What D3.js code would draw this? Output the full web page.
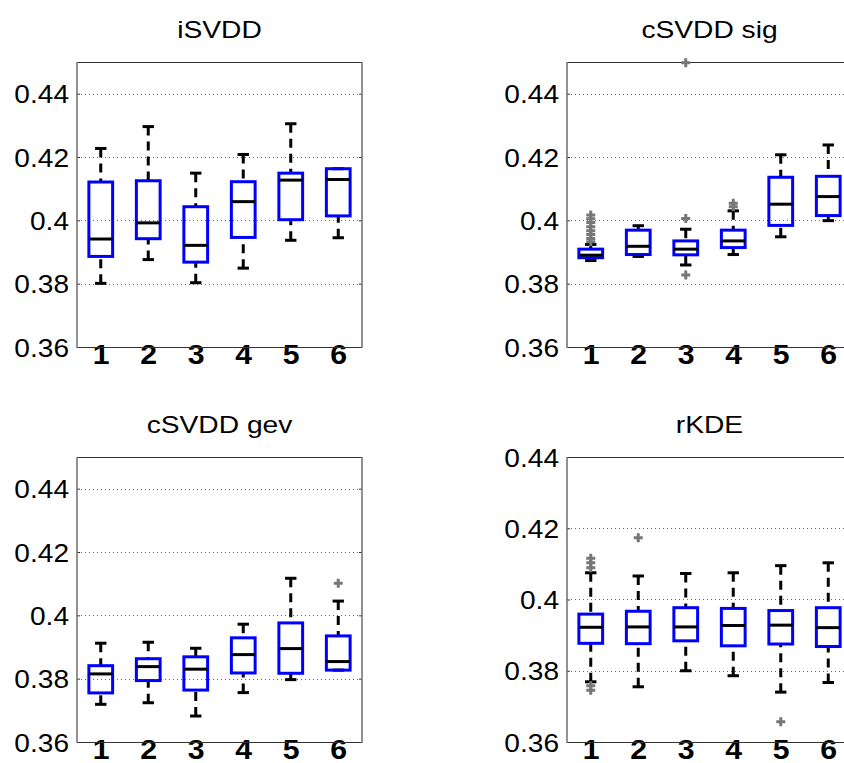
<!DOCTYPE html>
<html>
<head>
<meta charset="utf-8">
<script src="https://cdn.jsdelivr.net/npm/d3@7"></script>
<style>
  body { margin: 0; background: #fff; }
  svg { display: block; }
  text { font-family: "Liberation Sans", Arial, Helvetica, sans-serif; fill: #000; }
</style>
</head>
<body>
<div id="chart"></div>
<script>
// Categories along each x axis and the y tick values
const categories = [1, 2, 3, 4, 5, 6];
const titles = ["iSVDD", "cSVDD sig", "cSVDD gev", "rKDE"];
const yTicks = [0.36, 0.38, 0.40, 0.42, 0.44];

// iSVDD: whisker ends, quartiles, medians, outliers
const isvddLow  = [0.3801, 0.3876, 0.3803, 0.3849, 0.3937, 0.3945];
const isvddQ1   = [0.3886, 0.3942, 0.3868, 0.3946, 0.4002, 0.4014];
const isvddMed  = [0.3941, 0.3992, 0.3921, 0.4059, 0.4127, 0.4129];
const isvddQ3   = [0.4121, 0.4125, 0.4043, 0.4122, 0.4149, 0.4163];
const isvddHigh = [0.4227, 0.4296, 0.4149, 0.4208, 0.4305, 0.4163];
const isvddOut  = [[], [], [], [], [], []];

// cSVDD sig
const sigLow  = [0.3873, 0.3886, 0.3859, 0.3892, 0.3948, 0.3999];
const sigQ1   = [0.3882, 0.3892, 0.3891, 0.3914, 0.3984, 0.4015];
const sigMed  = [0.3890, 0.3918, 0.3909, 0.3935, 0.4051, 0.4075];
const sigQ3   = [0.3909, 0.3969, 0.3935, 0.3969, 0.4136, 0.4139];
const sigHigh = [0.3924, 0.3983, 0.3972, 0.4030, 0.4207, 0.4238];
const sigOut  = [[0.3932, 0.3943, 0.3955, 0.3967, 0.3980, 0.3993, 0.4005, 0.4017],
                 [], [0.4006, 0.3827, 0.4498], [0.4043, 0.4054], [], []];

// cSVDD gev
const gevLow  = [0.3719, 0.3724, 0.3682, 0.3756, 0.3797, 0.3827];
const gevQ1   = [0.3755, 0.3794, 0.3764, 0.3818, 0.3817, 0.3827];
const gevMed  = [0.3815, 0.3838, 0.3830, 0.3876, 0.3895, 0.3854];
const gevQ3   = [0.3841, 0.3863, 0.3869, 0.3929, 0.3976, 0.3935];
const gevHigh = [0.3912, 0.3915, 0.3896, 0.3972, 0.4117, 0.4045];
const gevOut  = [[], [], [], [], [], [0.4101]];

// rKDE
const rkdeLow  = [0.3769, 0.3755, 0.3800, 0.3786, 0.3740, 0.3767];
const rkdeQ1   = [0.3877, 0.3876, 0.3884, 0.3870, 0.3875, 0.3868];
const rkdeMed  = [0.3922, 0.3923, 0.3923, 0.3927, 0.3928, 0.3921];
const rkdeQ3   = [0.3959, 0.3967, 0.3977, 0.3975, 0.3969, 0.3977];
const rkdeHigh = [0.4075, 0.4066, 0.4073, 0.4075, 0.4095, 0.4103];
const rkdeOut  = [[0.4089, 0.4103, 0.4116, 0.3758, 0.3745], [0.4173], [], [], [0.3657], []];

const series = [
  { low: isvddLow, q1: isvddQ1, med: isvddMed, q3: isvddQ3, high: isvddHigh, out: isvddOut },
  { low: sigLow,   q1: sigQ1,   med: sigMed,   q3: sigQ3,   high: sigHigh,   out: sigOut },
  { low: gevLow,   q1: gevQ1,   med: gevMed,   q3: gevQ3,   high: gevHigh,   out: gevOut },
  { low: rkdeLow,  q1: rkdeQ1,  med: rkdeMed,  q3: rkdeQ3,  high: rkdeHigh,  out: rkdeOut }
];

// Subplot placement and y range of each panel
const W = 844, H = 763, size = 285;
const layout = [
  { x: 77,  y: 62,  yMax: 0.45 },
  { x: 567, y: 62,  yMax: 0.45 },
  { x: 77,  y: 457, yMax: 0.45 },
  { x: 567, y: 457, yMax: 0.44 }
];

const svg = d3.select("#chart").append("svg")
  .attr("width", W).attr("height", H)
  .style("background", "#fff");

const fmt = d => String(+d.toFixed(2));

layout.forEach((L, p) => {
  const s = series[p];
  const g = svg.append("g").attr("transform", `translate(${L.x},${L.y})`);
  const x = d3.scaleLinear().domain([0.5, 6.5]).range([0, size]);
  const y = d3.scaleLinear().domain([0.36, L.yMax]).range([size, 0]);

  // dotted horizontal grid
  g.append("g").selectAll("line")
    .data(yTicks.filter(t => t > 0.36 + 1e-9 && t < L.yMax - 1e-9))
    .join("line")
    .attr("x1", 0).attr("x2", size)
    .attr("y1", d => Math.round(y(d)) + 0.5).attr("y2", d => Math.round(y(d)) + 0.5)
    .attr("stroke", "#666").attr("stroke-width", 1)
    .attr("stroke-dasharray", "1,3");

  // left axis with labels, ticks pointing inward
  const yAxis = g.append("g")
    .call(d3.axisLeft(y).tickValues(yTicks).tickFormat(fmt)
      .tickSizeInner(-3).tickSizeOuter(0).tickPadding(0));
  yAxis.select(".domain").remove();
  yAxis.selectAll(".tick line").attr("stroke", "#333");
  yAxis.selectAll(".tick text")
    .attr("x", 0).attr("dy", "0.35em")
    .attr("transform", "translate(-8,0) scale(1.08,1)")
    .style("font-size", "26px");

  // right axis ticks only
  const yAxisR = g.append("g").attr("transform", `translate(${size},0)`)
    .call(d3.axisRight(y).tickValues(yTicks).tickFormat("")
      .tickSizeInner(-3).tickSizeOuter(0));
  yAxisR.select(".domain").remove();
  yAxisR.selectAll(".tick line").attr("stroke", "#333");

  // bottom category labels
  const xAxis = g.append("g").attr("transform", `translate(0,${size})`)
    .call(d3.axisBottom(x).tickValues(categories).tickFormat(d3.format("d"))
      .tickSize(0).tickPadding(0));
  xAxis.select(".domain").remove();
  xAxis.selectAll(".tick text")
    .attr("y", 0).attr("dy", "0.62em")
    .attr("transform", "scale(1.12,1)")
    .style("font-size", "27px").style("font-weight", "bold");

  // frame
  g.append("line").attr("x1", 0).attr("x2", size).attr("y1", 0.5).attr("y2", 0.5)
    .attr("stroke", "#333").attr("stroke-width", 1);
  g.append("line").attr("x1", 0).attr("x2", size).attr("y1", size + 0.5).attr("y2", size + 0.5)
    .attr("stroke", "#333").attr("stroke-width", 1);
  g.append("line").attr("x1", 0).attr("x2", 0).attr("y1", 0).attr("y2", size + 1)
    .attr("stroke", "#777").attr("stroke-width", 1.6);
  g.append("line").attr("x1", size).attr("x2", size).attr("y1", 0).attr("y2", size + 1)
    .attr("stroke", "#777").attr("stroke-width", 1.6);

  // title
  g.append("text")
    .attr("transform", `translate(${size / 2},-24) scale(1.2,1)`)
    .attr("text-anchor", "middle")
    .style("font-size", "23.5px")
    .text(titles[p]);

  const unit = x(1) - x(0);
  const boxHalf = unit * 0.25;
  const capHalf = unit * 0.12;
  const boxes = g.append("g");

  categories.forEach((c, i) => {
    const cx = x(c);
    const b = boxes.append("g");
    // dashed whiskers
    [[s.high[i], s.q3[i]], [s.low[i], s.q1[i]]].forEach(([end, edge]) => {
      if (Math.abs(y(end) - y(edge)) > 0.5) {
        b.append("line")
          .attr("x1", cx).attr("x2", cx)
          .attr("y1", y(end)).attr("y2", y(edge))
          .attr("stroke", "#000").attr("stroke-width", 3)
          .attr("stroke-dasharray", "9,6");
      }
      b.append("line")
        .attr("x1", cx - capHalf).attr("x2", cx + capHalf)
        .attr("y1", y(end)).attr("y2", y(end))
        .attr("stroke", "#000").attr("stroke-width", 3);
    });
    // box
    b.append("rect")
      .attr("x", cx - boxHalf).attr("width", boxHalf * 2)
      .attr("y", y(s.q3[i])).attr("height", y(s.q1[i]) - y(s.q3[i]))
      .attr("fill", "none").attr("stroke", "#0000ff").attr("stroke-width", 3);
    // median
    b.append("line")
      .attr("x1", cx - boxHalf).attr("x2", cx + boxHalf)
      .attr("y1", y(s.med[i])).attr("y2", y(s.med[i]))
      .attr("stroke", "#000").attr("stroke-width", 3);
    // outliers as plus markers
    b.selectAll("path.out").data(s.out[i]).join("path")
      .attr("class", "out")
      .attr("d", v => `M${cx - 4.5},${y(v)}H${cx + 4.5}M${cx},${y(v) - 4.5}V${y(v) + 4.5}`)
      .attr("stroke", "#777").attr("stroke-width", 3).attr("fill", "none");
  });
});
</script>
</body>
</html>
